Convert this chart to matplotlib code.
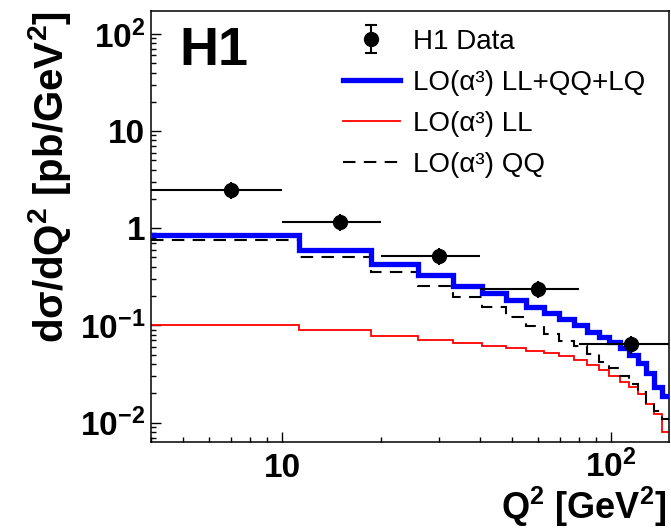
import numpy as np
import matplotlib
matplotlib.use("Agg")
import matplotlib.pyplot as plt
from matplotlib.lines import Line2D
from matplotlib.ticker import LogLocator, NullFormatter

plt.rcParams['font.family'] = ['Liberation Sans', 'DejaVu Sans']
plt.rcParams['mathtext.fontset'] = 'custom'
plt.rcParams['mathtext.rm'] = 'Liberation Sans'
plt.rcParams['mathtext.bf'] = 'Liberation Sans:bold'
plt.rcParams['mathtext.it'] = 'Liberation Sans:italic'

# --- LO(alpha^3) histograms, 20 equal bins in Q^2 from 4 to 150 GeV^2 ---
q2_edges = np.linspace(4.0, 150.0, 21)

lo_all = [0.851, 0.603, 0.428, 0.326, 0.257, 0.214, 0.182, 0.155, 0.133, 0.115,
          0.101, 0.086, 0.076, 0.068, 0.058, 0.049, 0.041, 0.032, 0.0233, 0.0187]
lo_ll = [0.102, 0.090, 0.078, 0.070, 0.066, 0.062, 0.058, 0.055, 0.052, 0.048,
         0.044, 0.039, 0.035, 0.030, 0.026, 0.0233, 0.0197, 0.0155, 0.0122, 0.0079]
lo_qq = [0.761, 0.502, 0.351, 0.254, 0.194, 0.155, 0.123, 0.099, 0.082, 0.069,
         0.062, 0.051, 0.042, 0.036, 0.030, 0.025, 0.0207, 0.0158, 0.0131, 0.0108]

# --- H1 data ---
data_lo = [4, 10, 20, 40, 80]
data_hi = [10, 20, 40, 80, 150]
data_x = [7.0, 15.0, 30.0, 60.0, 115.0]
data_y = [2.47, 1.17, 0.52, 0.236, 0.064]
data_err = [0.49, 0.23, 0.10, 0.047, 0.013]

W, H = 671, 532
fig = plt.figure(figsize=(W / 100, H / 100), dpi=100)
ax = fig.add_axes([151 / W, 90 / H, 518 / W, 431 / H])
ax.set_xscale('log')
ax.set_yscale('log')

ax.stairs(lo_ll, q2_edges, color='#ff0000', lw=1.3, baseline=None, zorder=2)
ax.stairs(lo_qq, q2_edges, color='black', lw=1.5, ls=(0, (6, 4)), baseline=None, zorder=3)
ax.stairs(lo_all, q2_edges, color='#0000ff', lw=3.8, baseline=None, zorder=4)

xerr = [np.array(data_x) - np.array(data_lo), np.array(data_hi) - np.array(data_x)]
ax.errorbar(data_x, data_y, xerr=xerr, yerr=data_err, fmt='o', color='black',
            ms=10, elinewidth=1.5, capsize=0, zorder=5)

ax.set_xlim(4, 150)
ax.set_ylim(0.0063, 172)

ax.set_xticks([10, 100], labels=['10', r'$\mathbf{10^{2}}$'],
              fontweight='bold', va='baseline')
ax.xaxis.set_minor_locator(LogLocator(base=10, subs=np.arange(2, 10)))
ax.xaxis.set_minor_formatter(NullFormatter())
ax.set_yticks([0.01, 0.1, 1, 10, 100],
              labels=[r'$\mathbf{10^{-2}}$', r'$\mathbf{10^{-1}}$', '1', '10', r'$\mathbf{10^{2}}$'],
              fontweight='bold')
ax.yaxis.set_minor_locator(LogLocator(base=10, subs=np.arange(2, 10), numticks=20))
ax.yaxis.set_minor_formatter(NullFormatter())

ax.tick_params(which='both', direction='in', top=False, right=False, labelsize=24)
ax.tick_params(which='major', length=7.5, width=1)
ax.tick_params(which='minor', length=3.8, width=1)
ax.tick_params(axis='x', pad=25)
ax.tick_params(axis='y', pad=4)
for s in ax.spines.values():
    s.set_linewidth(1.1)

ax.set_ylabel(r'$\mathbf{dσ/dQ^{2}\ [pb/GeV^{2}]}$', fontsize=29, loc='top')
ax.yaxis.set_label_coords(-0.15, 1.0)
ax.set_xlabel(r'$\mathbf{Q^{2}\ [GeV^{2}]}$', fontsize=26, loc='right')
ax.xaxis.label.set_va('baseline')
ax.xaxis.set_label_coords(0.994, -0.178)

ax.text(0.054, 0.874, 'H1', transform=ax.transAxes, fontsize=39,
        fontweight='bold', va='baseline', ha='left')

# legend
h_data = ax.errorbar([np.nan], [np.nan], yerr=[1.0], fmt='o', color='black',
                     ms=10, elinewidth=1.5, capsize=4, capthick=1.5)
handles = [h_data,
           Line2D([], [], color='#0000ff', lw=3.8),
           Line2D([], [], color='#ff0000', lw=1.3),
           Line2D([], [], color='black', lw=1.5, ls=(0, (6, 4)))]
labels = ['H1 Data', 'LO(α³) LL+QQ+LQ', 'LO(α³) LL', 'LO(α³) QQ']
ax.legend(handles, labels, loc='upper left', bbox_to_anchor=(0.37, 0.958),
          frameon=False, fontsize=20, handlelength=2.07, handletextpad=0.45,
          labelspacing=0.54, borderpad=0, borderaxespad=0)

fig.savefig('out.png', dpi=100)
